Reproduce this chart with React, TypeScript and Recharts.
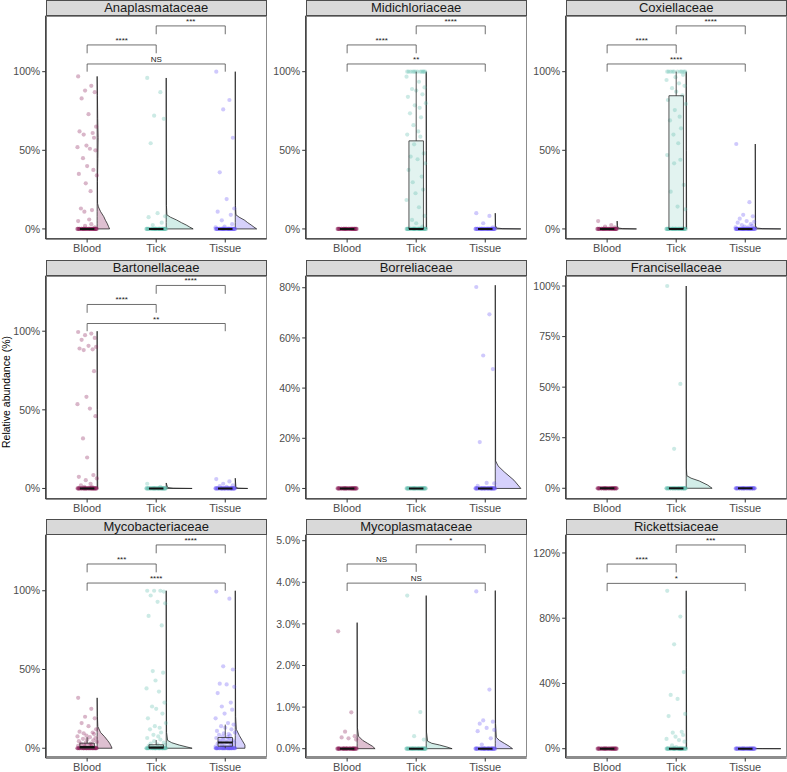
import React from 'react';
import { ComposedChart, Scatter, XAxis, YAxis } from 'recharts';

/* ─── SHARED ─────────────────────────────────────── */
const GROUPS = ['Blood', 'Tick', 'Tissue'];
const COLORS = ['#8A1C58', '#5FBFAE', '#6B58F5'];
const JITTER = [-0.13, 0.06, -0.03, 0.11, -0.08, 0.02, 0.13, -0.11, 0.08, -0.05, 0.1, -0.01,
  -0.14, 0.04, 0.12, -0.06, 0.0, 0.09, -0.12, 0.14, -0.02, 0.05, -0.09, 0.07, -0.04, 0.03];
const Z = [0, 0, 0, 0, 0, 0, 0, 0, 0, 0, 0, 0, 0, 0, 0, 0, 0, 0, 0, 0, 0, 0, 0, 0, 0, 0,
  0, 0, 0, 0, 0, 0, 0, 0, 0, 0, 0, 0];
const ZERO_BOX = [0, 0, 0, 0, 0];

// Blood–Tick, Tick–Tissue, Blood–Tissue
const PAIRS = [[1, 2], [2, 3], [1, 3]];
const BRACKETS_STD = [[1.117, 1.17], [1.238, 1.291], [1.0, 1.049]];
const BRACKETS_MYCOPL = [[0.0425, 0.0444], [0.047, 0.049], [0.0379, 0.0398]];
const BRACKETS_RICK = [[1.081, 1.132], [1.2, 1.249], [0.966, 1.0135]];

const TICKS_100 = [0, 0.5, 1];

/* ─── Anaplasmataceae ─── */
const anaBlood = [0.97, 0.91, 0.88, 0.87, 0.83, 0.73, 0.65, 0.62, 0.61, 0.6, 0.58, 0.53, 0.52, 0.51, 0.5, 0.45, 0.4,
  0.375, 0.35, 0.34, 0.29, 0.24, 0.13, 0.12, 0.11, 0.06, 0.05, 0.03, 0.02, 0.01, ...Z];
const anaTick = [0.96, 0.87, 0.72, 0.7, 0.545, 0.1, 0.08, 0.075, 0.04, 0.025, ...Z];
const anaTissue = [1.0, 0.82, 0.76, 0.58, 0.36, 0.19, 0.13, 0.11, 0.09, 0.055, 0.03, 0.015, 0.01, ...Z];
const anaVBlood = [[0, 0.18], [0.015, 0.165], [0.036, 0.144], [0.055, 0.12], [0.078, 0.096], [0.11, 0.05], [0.14, 0.018],
  [0.163, 0.006], [0.3, 0.005], [0.45, 0.01], [0.58, 0.014], [0.7, 0.008], [0.85, 0.004], [0.97, 0]];
const anaVTick = [[0, 0.39], [0.012, 0.34], [0.025, 0.29], [0.04, 0.22], [0.057, 0.15], [0.075, 0.06], [0.09, 0.01],
  [0.15, 0.003], [0.96, 0]];
const anaVTissue = [[0, 0.31], [0.012, 0.27], [0.025, 0.23], [0.04, 0.18], [0.057, 0.13], [0.075, 0.055], [0.09, 0.01],
  [0.15, 0.003], [1.0, 0]];

/* ─── Midichloriaceae ─── */
const midiBlood = [...Z];
const midiTick = [1, 1, 1, 1, 1, 1, 1, 1, 1, 1, 1, 1, 0.968, 0.936, 0.9, 0.89, 0.88, 0.856, 0.84, 0.8, 0.786, 0.77, 0.735,
  0.71, 0.66, 0.62, 0.6, 0.587, 0.538, 0.48, 0.46, 0.443, 0.417, 0.375, 0.333, 0.297, 0.25, 0.227, 0.184, 0.138,
  0.083, 0.057, 0.036, 0.015, ...Z];
const midiTissue = [0.1, 0.083, 0.036, 0.01, ...Z];
const midiTickBox = [0, 0, 0, 0.56, 1.0];
const midiVTick = [[0, 0.006], [0.5, 0.003], [1, 0]];
const midiVTissue = [[0, 0.37], [0.002, 0.1], [0.006, 0.02], [0.02, 0.004], [0.1, 0]];

/* ─── Coxiellaceae ─── */
const coxBlood = [0.05, 0.025, 0.015, 0.01, ...Z];
const coxTick = [1, 1, 1, 1, 1, 1, 1, 1, 1, 1, 0.98, 0.965, 0.947, 0.926, 0.91, 0.895, 0.873, 0.85, 0.82, 0.795, 0.756,
  0.714, 0.69, 0.64, 0.6, 0.545, 0.47, 0.44, 0.417, 0.28, 0.237, 0.142, 0.125, ...Z];
const coxTissue = [0.54, 0.17, 0.09, 0.08, 0.065, 0.05, 0.045, 0.04, 0.03, 0.025, 0.02, 0.015, 0.01, 0.01, 0.005, ...Z];
const coxTickBox = [0, 0, 0, 0.847, 1.0];
const coxVBlood = [[0, 0.28], [0.002, 0.08], [0.006, 0.015], [0.02, 0.004], [0.05, 0]];
const coxVTick = [[0, 0.006], [0.5, 0.003], [1, 0]];
const coxVTissue = [[0, 0.37], [0.002, 0.1], [0.006, 0.02], [0.02, 0.004], [0.54, 0]];

/* ─── Bartonellaceae ─── */
const bartBlood = [0.995, 0.985, 0.975, 0.957, 0.945, 0.907, 0.9, 0.89, 0.885, 0.88, 0.746, 0.583, 0.536, 0.508, 0.46,
  0.318, 0.197, 0.085, 0.074, 0.064, 0.053, 0.03, 0.02, 0.01, 0.01, 0.005, ...Z];
const bartTick = [0.03, 0.01, ...Z];
const bartTissue = [0.06, 0.045, 0.03, 0.02, 0.015, 0.01, ...Z];
const bartVBlood = [[0, 0.008], [0.5, 0.004], [1.0, 0]];
const bartVTick = [[0, 0.375], [0.002, 0.1], [0.006, 0.02], [0.035, 0]];
const bartVTissue = [[0, 0.18], [0.002, 0.05], [0.006, 0.01], [0.065, 0]];

/* ─── Borreliaceae ─── */
const borrBlood = [...Z];
const borrTick = [...Z];
const borrTissue = [0.803, 0.694, 0.53, 0.476, 0.185, 0.022, 0.02, 0.01, ...Z];
const borrVTissue = [[0, 0.37], [0.01, 0.34], [0.033, 0.27], [0.066, 0.13], [0.09, 0.04], [0.11, 0.005], [0.81, 0]];

/* ─── Francisellaceae ─── */
const franBlood = [...Z];
const franTick = [1.0, 0.516, 0.195, ...Z];
const franTissue = [...Z];
const franVTick = [[0, 0.375], [0.016, 0.31], [0.036, 0.19], [0.05, 0.07], [0.062, 0.01], [0.1, 0.002], [1, 0]];

/* ─── Mycobacteriaceae ─── */
const mycoBlood = [0.32, 0.25, 0.2, 0.19, 0.16, 0.14, 0.12, 0.105, 0.1, 0.095, 0.09, 0.08, 0.075, 0.07, 0.065, 0.06,
  0.055, 0.05, 0.045, 0.04, 0.035, 0.03, 0.03, 0.025, 0.02, 0.02, 0.015, 0.01, 0.01, 0.005, 0.005, ...Z];
const mycoTick = [1, 1, 1, 0.995, 0.97, 0.93, 0.92, 0.84, 0.78, 0.49, 0.48, 0.43, 0.38, 0.36, 0.29, 0.265, 0.25, 0.22,
  0.19, 0.16, 0.14, 0.13, 0.12, 0.1, 0.085, 0.075, 0.065, 0.055, 0.045, 0.035, 0.03, 0.025, 0.02, 0.015, 0.01, 0.005, ...Z];
const mycoTissue = [0.995, 0.95, 0.52, 0.5, 0.41, 0.405, 0.39, 0.35, 0.29, 0.265, 0.245, 0.22, 0.19, 0.16, 0.15, 0.14,
  0.13, 0.12, 0.11, 0.1, 0.095, 0.09, 0.085, 0.08, 0.075, 0.07, 0.065, 0.06, 0.055, 0.05, 0.045, 0.04, 0.035, 0.03,
  0.025, 0.02, 0.015, 0.012, 0.01, 0.008, 0.005, 0.003, ...Z];
const mycoBoxBlood = [0, 0, 0.008, 0.032, 0.07];
const mycoBoxTick = [0, 0, 0.005, 0.022, 0.052];
const mycoBoxTissue = [0, 0.013, 0.036, 0.068, 0.15];
const mycoVBlood = [[0, 0.216], [0.015, 0.2], [0.032, 0.18], [0.05, 0.15], [0.074, 0.106], [0.1, 0.05], [0.138, 0.01],
  [0.2, 0.004], [0.32, 0]];
const mycoVTick = [[0, 0.375], [0.008, 0.3], [0.02, 0.19], [0.035, 0.08], [0.05, 0.02], [0.1, 0.005], [1, 0]];
const mycoVTissue = [[0, 0.14], [0.02, 0.14], [0.05, 0.1], [0.08, 0.06], [0.12, 0.015], [0.2, 0.005], [0.5, 0.003], [1, 0]];

/* ─── Mycoplasmataceae ─── */
const mpBlood = [0.0282, 0.00875, 0.0041, 0.003, 0.0027, 0.0025, 0.0022, ...Z];
const mpTick = [0.0368, 0.0088, 0.003, 0.0022, ...Z];
const mpTissue = [0.0378, 0.0142, 0.0068, 0.0065, 0.006, 0.005, 0.0045, 0.0042, 0.0025, 0.001, ...Z];
const mpVBlood = [[0, 0.26], [0.0006, 0.22], [0.0013, 0.15], [0.002, 0.08], [0.003, 0.02], [0.005, 0.004], [0.0303, 0]];
const mpVTick = [[0, 0.375], [0.0004, 0.3], [0.0009, 0.19], [0.0013, 0.08], [0.0018, 0.02], [0.004, 0.004], [0.0368, 0]];
const mpVTissue = [[0, 0.25], [0.0006, 0.2], [0.0013, 0.13], [0.002, 0.06], [0.0027, 0.015], [0.006, 0.004], [0.038, 0]];

/* ─── Rickettsiaceae ─── */
const rickBlood = [...Z];
const rickTick = [0.968, 0.81, 0.64, 0.47, 0.33, 0.305, 0.213, 0.2, 0.104, 0.098, 0.084, 0.074, 0.06, 0.053, 0.043,
  0.02, 0.01, ...Z];
const rickTissue = [...Z];
const rickVTick = [[0, 0.006], [0.5, 0.003], [0.968, 0]];
const rickVTissue = [[0, 0.37], [0.0005, 0.1], [0.001, 0]];

const PANELS = [
  { title: 'Anaplasmataceae', domain: [-0.064, 1.356], ticks: TICKS_100, digits: 0,
    points: [anaBlood, anaTick, anaTissue], boxes: [ZERO_BOX, ZERO_BOX, ZERO_BOX],
    violins: [anaVBlood, anaVTick, anaVTissue], sig: ['****', '***', 'NS'], brackets: BRACKETS_STD },
  { title: 'Midichloriaceae', domain: [-0.064, 1.356], ticks: TICKS_100, digits: 0,
    points: [midiBlood, midiTick, midiTissue], boxes: [ZERO_BOX, midiTickBox, ZERO_BOX],
    violins: [null, midiVTick, midiVTissue], sig: ['****', '****', '**'], brackets: BRACKETS_STD },
  { title: 'Coxiellaceae', domain: [-0.064, 1.356], ticks: TICKS_100, digits: 0,
    points: [coxBlood, coxTick, coxTissue], boxes: [ZERO_BOX, coxTickBox, ZERO_BOX],
    violins: [coxVBlood, coxVTick, coxVTissue], sig: ['****', '****', '****'], brackets: BRACKETS_STD },
  { title: 'Bartonellaceae', domain: [-0.067, 1.353], ticks: TICKS_100, digits: 0,
    points: [bartBlood, bartTick, bartTissue], boxes: [ZERO_BOX, ZERO_BOX, ZERO_BOX],
    violins: [bartVBlood, bartVTick, bartVTissue], sig: ['****', '****', '**'], brackets: BRACKETS_STD },
  { title: 'Borreliaceae', domain: [-0.042, 0.848], ticks: [0, 0.2, 0.4, 0.6, 0.8], digits: 0,
    points: [borrBlood, borrTick, borrTissue], boxes: [ZERO_BOX, ZERO_BOX, ZERO_BOX],
    violins: [null, null, borrVTissue], sig: null, brackets: null },
  { title: 'Francisellaceae', domain: [-0.053, 1.051], ticks: [0, 0.25, 0.5, 0.75, 1], digits: 0,
    points: [franBlood, franTick, franTissue], boxes: [ZERO_BOX, ZERO_BOX, ZERO_BOX],
    violins: [null, franVTick, null], sig: null, brackets: null },
  { title: 'Mycobacteriaceae', domain: [-0.062, 1.356], ticks: TICKS_100, digits: 0,
    points: [mycoBlood, mycoTick, mycoTissue], boxes: [mycoBoxBlood, mycoBoxTick, mycoBoxTissue],
    violins: [mycoVBlood, mycoVTick, mycoVTissue], sig: ['***', '****', '****'], brackets: BRACKETS_STD },
  { title: 'Mycoplasmataceae', domain: [-0.00224, 0.05144], ticks: [0, 0.01, 0.02, 0.03, 0.04, 0.05], digits: 1,
    points: [mpBlood, mpTick, mpTissue], boxes: [ZERO_BOX, ZERO_BOX, ZERO_BOX],
    violins: [mpVBlood, mpVTick, mpVTissue], sig: ['NS', '*', 'NS'], brackets: BRACKETS_MYCOPL },
  { title: 'Rickettsiaceae', domain: [-0.057, 1.312], ticks: [0, 0.4, 0.8, 1.2], digits: 0,
    points: [rickBlood, rickTick, rickTissue], boxes: [ZERO_BOX, ZERO_BOX, ZERO_BOX],
    violins: [null, rickVTick, rickVTissue], sig: ['****', '***', '*'], brackets: BRACKETS_RICK },
];

/* ─── GEOMETRY (in x-axis units) ─── */
const VIOLIN_SHIFT = 0.145;
const BOX_HALF = 0.105;
const CHART_W = 268;
const CHART_H = 258;
const PLOT_L = 45.7;
const PLOT_T = 15.7;
const PLOT_W = 221;
const PLOT_H = 223.3;
const ROW_TOPS = [0, 260.2, 518.5];
const FONT = '"Liberation Sans", Arial, Helvetica, sans-serif';

const jitterPts = (vals: number[], g: number) =>
  vals.map((v, i) => ({ x: g + 1 + JITTER[i % JITTER.length], y: v }));

const violinPts = (prof: number[][], g: number) => {
  const base = g + 1 + VIOLIN_SHIFT;
  const up = prof.map(([y]) => ({ x: base, y }));
  const down = [...prof].reverse().map(([y, w]) => ({ x: base + w, y }));
  return [...up, ...down];
};

const noMarker = () => <g />;

const pathLine = (fill: string, fillOpacity: number, stroke: string, width: number, closed: boolean) => (p: any) => {
  const pts = p.points || [];
  if (!pts.length) return <g />;
  const d = pts.map((q: any, i: number) => `${i ? 'L' : 'M'}${q.x},${q.y}`).join(' ') + (closed ? ' Z' : '');
  return <path d={d} fill={fill} fillOpacity={fillOpacity} stroke={stroke} strokeWidth={width} strokeLinejoin="round" />;
};

const fmtPct = (digits: number) => (v: number) => `${(v * 100).toFixed(digits)}%`;

const Panel = ({ cfg, left, top }: any) => {
  const series: any[] = [];

  cfg.violins.forEach((prof: number[][] | null, g: number) => {
    if (!prof) return;
    series.push(
      <Scatter key={`v${g}`} data={violinPts(prof, g)} shape={noMarker} isAnimationActive={false}
        line={pathLine(COLORS[g], 0.28, '#1a1a1a', 0.75, true)} />
    );
  });

  cfg.points.forEach((vals: number[], g: number) => {
    series.push(
      <Scatter key={`p${g}`} data={jitterPts(vals, g)} isAnimationActive={false}
        shape={(p: any) => <circle cx={p.cx} cy={p.cy} r={2.1} fill={COLORS[g]} fillOpacity={0.32} />} />
    );
  });

  cfg.boxes.forEach((b: number[], g: number) => {
    const c = g + 1;
    if (b[3] > b[1]) {
      series.push(
        <Scatter key={`b${g}`} isAnimationActive={false} shape={noMarker}
          data={[{ x: c - BOX_HALF, y: b[1] }, { x: c + BOX_HALF, y: b[1] }, { x: c + BOX_HALF, y: b[3] }, { x: c - BOX_HALF, y: b[3] }]}
          line={pathLine(COLORS[g], 0.18, '#2b2b2b', 0.8, true)} />,
        <Scatter key={`wu${g}`} isAnimationActive={false} shape={noMarker}
          data={[{ x: c, y: b[3] }, { x: c, y: b[4] }]} line={pathLine('none', 0, '#2b2b2b', 0.8, false)} />
      );
      if (b[1] > b[0]) {
        series.push(
          <Scatter key={`wl${g}`} isAnimationActive={false} shape={noMarker}
            data={[{ x: c, y: b[0] }, { x: c, y: b[1] }]} line={pathLine('none', 0, '#2b2b2b', 0.8, false)} />
        );
      }
    }
    series.push(
      <Scatter key={`m${g}`} isAnimationActive={false} shape={noMarker}
        data={[{ x: c - BOX_HALF, y: b[2] }, { x: c + BOX_HALF, y: b[2] }]}
        line={pathLine('none', 0, '#111', 1.9, false)} />
    );
  });

  if (cfg.brackets) {
    PAIRS.forEach(([x1, x2], k) => {
      const [tip, yl] = cfg.brackets[k];
      series.push(
        <Scatter key={`s${k}`} isAnimationActive={false} shape={noMarker}
          data={[{ x: x1, y: tip }, { x: x1, y: yl }, { x: x2, y: yl }, { x: x2, y: tip }]}
          line={pathLine('none', 0, '#4a4a4a', 0.8, false)} />,
        <Scatter key={`t${k}`} isAnimationActive={false}
          data={[{ x: (x1 + x2) / 2, y: yl, label: cfg.sig[k] }]}
          shape={(p: any) => (
            <text x={p.cx} y={p.cy - 2} textAnchor="middle" fontSize={8} fill="#1a1a1a">{p.payload.label}</text>
          )} />
      );
    });
  }

  return (
    <div style={{ position: 'absolute', left, top, width: CHART_W, height: CHART_H }}>
      <div style={{
        position: 'absolute', left: PLOT_L, top: PLOT_T, width: PLOT_W, height: PLOT_H,
        border: '0.8px solid #8c8c8c', boxSizing: 'border-box',
      }} />
      <div style={{
        position: 'absolute', left: PLOT_L, top: 0, width: PLOT_W, height: PLOT_T + 0.5,
        background: '#D9D9D9', border: '0.8px solid #4d4d4d', boxSizing: 'border-box',
        fontSize: 13, lineHeight: `${PLOT_T - 1}px`, textAlign: 'center', color: '#1a1a1a',
      }}>{cfg.title}</div>
      <div style={{ position: 'absolute', left: 0, top: 0 }}>
        <ComposedChart width={CHART_W} height={CHART_H}
          margin={{ top: PLOT_T, right: CHART_W - PLOT_L - PLOT_W, bottom: 0, left: 0.7 }}>
          <XAxis type="number" dataKey="x" domain={[0.4, 3.6]} allowDataOverflow ticks={[1, 2, 3]} interval={0}
            tickFormatter={(v: number) => GROUPS[v - 1]} height={CHART_H - PLOT_T - PLOT_H}
            tick={{ fontSize: 11, fill: '#4d4d4d' }} tickSize={3.5} tickMargin={1.5}
            axisLine={{ stroke: '#1a1a1a', strokeWidth: 1 }} tickLine={{ stroke: '#333' }} />
          <YAxis type="number" dataKey="y" domain={cfg.domain} allowDataOverflow ticks={cfg.ticks} interval={0}
            tickFormatter={fmtPct(cfg.digits)} width={PLOT_L - 0.7}
            tick={{ fontSize: 10.5, fill: '#4d4d4d' }} tickSize={3.5} tickMargin={2}
            axisLine={{ stroke: '#1a1a1a', strokeWidth: 1 }} tickLine={{ stroke: '#333' }} />
          {series}
        </ComposedChart>
      </div>
    </div>
  );
};

export default function App() {
  return (
    <div style={{ position: 'absolute', left: 0, top: 0, width: 787, height: 772, background: '#fff', fontFamily: FONT, overflow: 'hidden' }}>
      {PANELS.map((cfg, i) => (
        <Panel key={cfg.title} cfg={cfg} left={(i % 3) * 260} top={ROW_TOPS[Math.floor(i / 3)]} />
      ))}
      <div style={{
        position: 'absolute', left: 6, top: 392, transform: 'translate(-50%, -50%) rotate(-90deg)',
        fontSize: 10.5, whiteSpace: 'nowrap', color: '#000',
      }}>Relative abundance (%)</div>
    </div>
  );
}
